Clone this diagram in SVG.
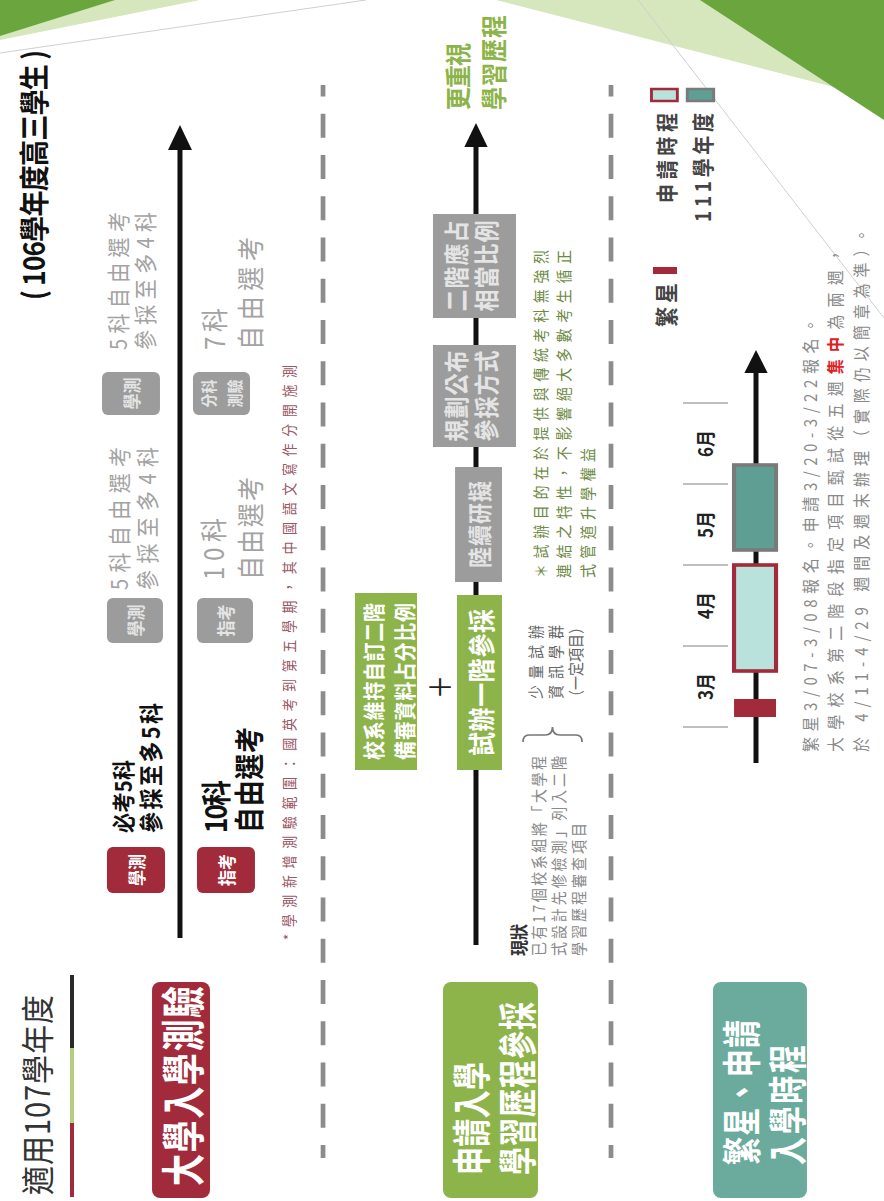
<svg xmlns="http://www.w3.org/2000/svg" width="884" height="1201" viewBox="0 0 884 1201">
<style>
text{font-family:"Noto Sans CJK TC","Noto Sans",sans-serif}
.c{text-anchor:middle;dominant-baseline:central}
.s{dominant-baseline:central}
.e{text-anchor:end;dominant-baseline:central}
.b{font-weight:700}
.w{fill:#fff}
.gt{fill:#a3a3a3}
.red{fill:#a22b3b}
.grn{fill:#8db44a}
.teal{fill:#6aab9d}
.gb{fill:#9c9c9c}
.gbt{fill:#e4e4e4}
.ax{stroke:#111;stroke-width:4.35;fill:none}
.dash{stroke:#8c8c8c;stroke-width:4.1;stroke-dasharray:24 17.25;stroke-dashoffset:11}
.sep{stroke:#aaa;stroke-width:1.5}
</style>
<rect width="884" height="1201" fill="#fff"/>
<g id="background">
<polygon points="0,0 200,0 0,40" fill="#d6e7bd"/>
<polygon points="0,0 115,0 0,36" fill="#6aa63d"/>
<line x1="0" y1="53" x2="366" y2="0" stroke="#cfcfcf" stroke-width="1"/>
<polygon points="496,0 884,0 884,100" fill="#d6e7bd"/>
<polygon points="700,0 884,0 884,120" fill="#6aa63d"/>
<line x1="638" y1="0" x2="884" y2="318" stroke="#cfcfcf" stroke-width="1"/>
</g>
<g transform="matrix(0,-1,1.15,0,0,1201)">
<g id="connectors">
<line x1="43" y1="280.9" x2="1116" y2="280.9" class="dash"/>
<line x1="43" y1="531.3" x2="1116" y2="531.3" class="dash"/>
<line x1="263" y1="156.5" x2="1053" y2="156.5" class="ax"/>
<polygon points="1051,146.1 1076,156.5 1051,166.9" fill="#111"/>
<line x1="256" y1="413.9" x2="1056" y2="413.9" class="ax"/>
<polygon points="1054,403.8 1078,413.9 1054,424" fill="#111"/>
<line x1="438" y1="657.4" x2="830" y2="657.4" class="ax"/>
<polygon points="828,647.3 851,657.4 828,667.5" fill="#111"/>
<path d="M459,454.8 Q466,454.8 466,460 L466,474 Q466,480.4 474,480.4 Q466,480.4 466,487 L466,501 Q466,506.1 459,506.1" fill="none" stroke="#777" stroke-width="1.5"/>
</g>
<g id="title"><text class="s b" x="901" y="27.8" font-size="26" fill="#111" textLength="250">( 106學年度高三學生 )</text></g>
<g id="label-year">
<text class="s" x="6" y="31.3" font-size="29" fill="#333" textLength="200">適用107學年度</text>
<line x1="4" y1="62.6" x2="78" y2="62.6" stroke="#a22b3b" stroke-width="3.5"/>
<line x1="78" y1="62.6" x2="153" y2="62.6" stroke="#b6cf7e" stroke-width="3.5"/>
<line x1="153" y1="62.6" x2="226" y2="62.6" stroke="#2a2a2a" stroke-width="3.5"/>
</g>
<g id="node-exam">
<rect x="3" y="132.2" width="216" height="50.4" rx="8" ry="7" class="red"/>
<text class="c b w" transform="translate(115,157.4) scale(1,1.2)" font-size="32" textLength="200">大學入學測驗</text>
</g>
<g id="badge-gsat-1"><rect x="308" y="93" width="46" height="50.5" rx="6" ry="5" class="red"/><text class="c b w" x="331" y="118.3" font-size="16">學測</text></g>
<g id="badge-ast-1"><rect x="308" y="171.3" width="46" height="50.4" rx="6" ry="5" class="red"/><text class="c b w" x="331" y="196.5" font-size="16">指考</text></g>
<g id="text-gsat-1">
<text class="s b" x="368" y="106.1" font-size="20" fill="#111" textLength="73">必考5科</text>
<text class="s b" x="368" y="130.4" font-size="21" fill="#111" textLength="130">參採至多5科</text>
</g>
<g id="text-ast-1">
<text class="s b" x="368" y="186.1" font-size="26" fill="#111" textLength="53">10科</text>
<text class="s b" x="368" y="215" font-size="26" fill="#111" textLength="106">自由選考</text>
</g>
<g id="badge-gsat-2"><rect x="558" y="93" width="45" height="48.7" rx="6" ry="5" class="gb"/><text class="c b gbt" x="580.5" y="117.3" font-size="16">學測</text></g>
<g id="badge-ast-2"><rect x="558" y="171.3" width="45" height="48.7" rx="6" ry="5" class="gb"/><text class="c b gbt" x="580.5" y="195.6" font-size="16">指考</text></g>
<g id="text-gsat-2">
<text class="s gt" x="611" y="102.6" font-size="20" textLength="143">5科自由選考</text>
<text class="s gt" x="611" y="127" font-size="20" textLength="143">參採至多4科</text>
</g>
<g id="text-ast-2">
<text class="s gt" x="621" y="184.3" font-size="24" textLength="62">10科</text>
<text class="s gt" x="621" y="216.5" font-size="24" textLength="103">自由選考</text>
</g>
<g id="badge-gsat-3"><rect x="786" y="88.7" width="43" height="50.4" rx="6" ry="5" class="gb"/><text class="c b gbt" x="807.5" y="113.9" font-size="16">學測</text></g>
<g id="badge-sub-3"><rect x="786" y="167.8" width="43" height="49.6" rx="6" ry="5" class="gb"/>
<text class="c b gbt" x="807.5" y="181" font-size="14">分科</text>
<text class="c b gbt" x="807.5" y="203.5" font-size="14">測驗</text></g>
<g id="text-gsat-3">
<text class="s gt" x="851" y="101.7" font-size="20" textLength="138">5科自由選考</text>
<text class="s gt" x="851" y="125.2" font-size="20" textLength="138">參採至多4科</text>
</g>
<g id="text-sub-3">
<text class="s gt" x="851" y="185.2" font-size="24" textLength="42">7科</text>
<text class="s gt" x="851" y="216.5" font-size="24" textLength="113">自由選考</text>
</g>
<g id="note-exam"><text class="s" x="261" y="251.3" font-size="13" fill="#9a5767" textLength="575">*學測新增測驗範圍：國英考到第五學期，其中國語文寫作分開施測</text></g>
<g id="node-apply">
<rect x="3" y="385.2" width="216" height="82.6" rx="8" ry="7" class="grn"/>
<text class="s b w" transform="translate(26,407.8) scale(1,1.2)" font-size="28" textLength="113">申請入學</text>
<text class="s b w" transform="translate(26,447.8) scale(1,1.2)" font-size="28" textLength="173">學習歷程參採</text>
</g>
<g id="node-dept"><rect x="431" y="308.7" width="177" height="53.9" class="grn"/>
<text class="c b w" x="519.5" y="323.9" font-size="19" textLength="157">校系維持自訂二階</text>
<text class="c b w" x="519.5" y="350.4" font-size="19" textLength="157">備審資料占分比例</text></g>
<g id="plus"><text class="c" x="514" y="380" font-size="38" font-weight="300" fill="#222">+</text></g>
<g id="node-trial"><rect x="431" y="397.4" width="175" height="39.1" class="grn"/>
<text class="c b w" x="518.5" y="417" font-size="24" textLength="147">試辦一階參採</text></g>
<g id="node-draft"><rect x="619" y="395.7" width="115" height="40.8" class="gb"/>
<text class="c b gbt" x="676.5" y="416.1" font-size="21" textLength="87">陸續研擬</text></g>
<g id="node-plan"><rect x="754" y="376.5" width="102" height="72.2" class="gb"/>
<text class="c b gbt" x="805" y="396.1" font-size="22" textLength="91">規劃公布</text>
<text class="c b gbt" x="805" y="422.2" font-size="22" textLength="91">參採方式</text></g>
<g id="node-ratio"><rect x="883" y="376.5" width="104" height="72.2" class="gb"/>
<text class="c b gbt" x="935" y="396.1" font-size="22" textLength="91">二階應占</text>
<text class="c b gbt" x="935" y="422.2" font-size="22" textLength="91">相當比例</text></g>
<g id="goal"><text class="s b" x="1091" y="396.5" font-size="23" fill="#8db44a" textLength="67">更重視</text>
<text class="s b" x="1091" y="427.8" font-size="23" fill="#8db44a" textLength="95">學習歷程</text></g>
<g id="status">
<text class="s b" x="245" y="450.4" font-size="16" fill="#333" textLength="32">現狀</text>
<text class="s" x="245" y="467.8" font-size="14" fill="#8a8a8a" textLength="200">已有17個校系組將「大學程</text>
<text class="s" x="245" y="485.2" font-size="14" fill="#8a8a8a" textLength="200">式設計先修檢測」列入二階</text>
<text class="s" x="245" y="502.6" font-size="14" fill="#8a8a8a" textLength="133">學習歷程審查項目</text>
</g>
<g id="trial-note">
<text class="s" x="502" y="465.2" font-size="14" fill="#666" textLength="74">少量試辦</text>
<text class="s" x="502" y="482.6" font-size="14" fill="#666" textLength="74">資訊學群</text>
<text class="s" x="497" y="500" font-size="14" fill="#666">（一定項目）</text>
</g>
<g id="note-trial">
<text class="s" x="623" y="469.6" font-size="14" fill="#6f8a45" textLength="328">＊試辦目的在於提供與傳統考科無強烈</text>
<text class="s" x="623" y="489.6" font-size="14" fill="#6f8a45" textLength="328">連結之特性，不影響絕大多數考生循正</text>
<text class="s" x="623" y="510.4" font-size="14" fill="#6f8a45" textLength="130">式管道升學權益</text>
</g>
<g id="node-schedule">
<rect x="3" y="620" width="216" height="81.7" rx="8" ry="7" class="teal"/>
<text class="s b w" transform="translate(36,642.6) scale(1,1.2)" font-size="28" textLength="145">繁星、申請</text>
<text class="s b w" transform="translate(36,682.6) scale(1,1.2)" font-size="28" textLength="120">入學時程</text>
</g>
<g id="timeline">
<line x1="798" y1="593.9" x2="798" y2="633" class="sep"/>
<line x1="717" y1="593.9" x2="717" y2="633" class="sep"/>
<line x1="636" y1="593.9" x2="636" y2="633" class="sep"/>
<line x1="555" y1="593.9" x2="555" y2="633" class="sep"/>
<line x1="474" y1="593.9" x2="474" y2="633" class="sep"/>
<text class="c b" x="514.5" y="613" font-size="17" fill="#222">3月</text>
<text class="c b" x="595.5" y="613" font-size="17" fill="#222">4月</text>
<text class="c b" x="676.5" y="613" font-size="17" fill="#222">5月</text>
<text class="c b" x="757.5" y="613" font-size="17" fill="#222">6月</text>
</g>
<g id="bar-star"><rect x="484" y="638.3" width="18" height="36.5" class="red"/></g>
<g id="bar-apply"><rect x="530" y="638.3" width="106" height="36.5" fill="#b9e2dd" stroke="#a22b3b" stroke-width="3.6"/></g>
<g id="bar-111"><rect x="651" y="638.3" width="85" height="36.5" fill="#5e9e93" stroke="#7a7a7a" stroke-width="3.6"/></g>
<g id="schedule-note">
<text class="s" x="449" y="704.3" font-size="15" fill="#8a8a8a" textLength="434">繁星3/07-3/08報名。申請3/20-3/22報名。</text>
<text class="s" x="449" y="726.1" font-size="15" fill="#8a8a8a" textLength="504">大學校系第二階段指定項目甄試從五週<tspan fill="#e0201f" font-weight="700">集中</tspan>為兩週，</text>
<text class="s" x="449" y="748.7" font-size="15" fill="#8a8a8a" textLength="524">於 4/11-4/29 週間及週末辦理（實際仍以簡章為準）。</text>
</g>
<g id="legend">
<rect x="1100" y="566.5" width="12" height="22.5" fill="#b9e2dd" stroke="#a22b3b" stroke-width="2.5"/>
<text class="e b" x="1088" y="578.3" font-size="19" fill="#444" textLength="90">申請時程</text>
<rect x="1100" y="597.6" width="12" height="23" fill="#5e9e93" stroke="#7a7a7a" stroke-width="2.5"/>
<text class="e b" x="1088" y="609.6" font-size="19" fill="#444" textLength="109">111學年度</text>
<rect x="927" y="567.8" width="7" height="20.9" class="red"/>
<text class="e b" x="918" y="578.3" font-size="20" fill="#444" textLength="44">繁星</text>
</g>
</g>
</svg>
